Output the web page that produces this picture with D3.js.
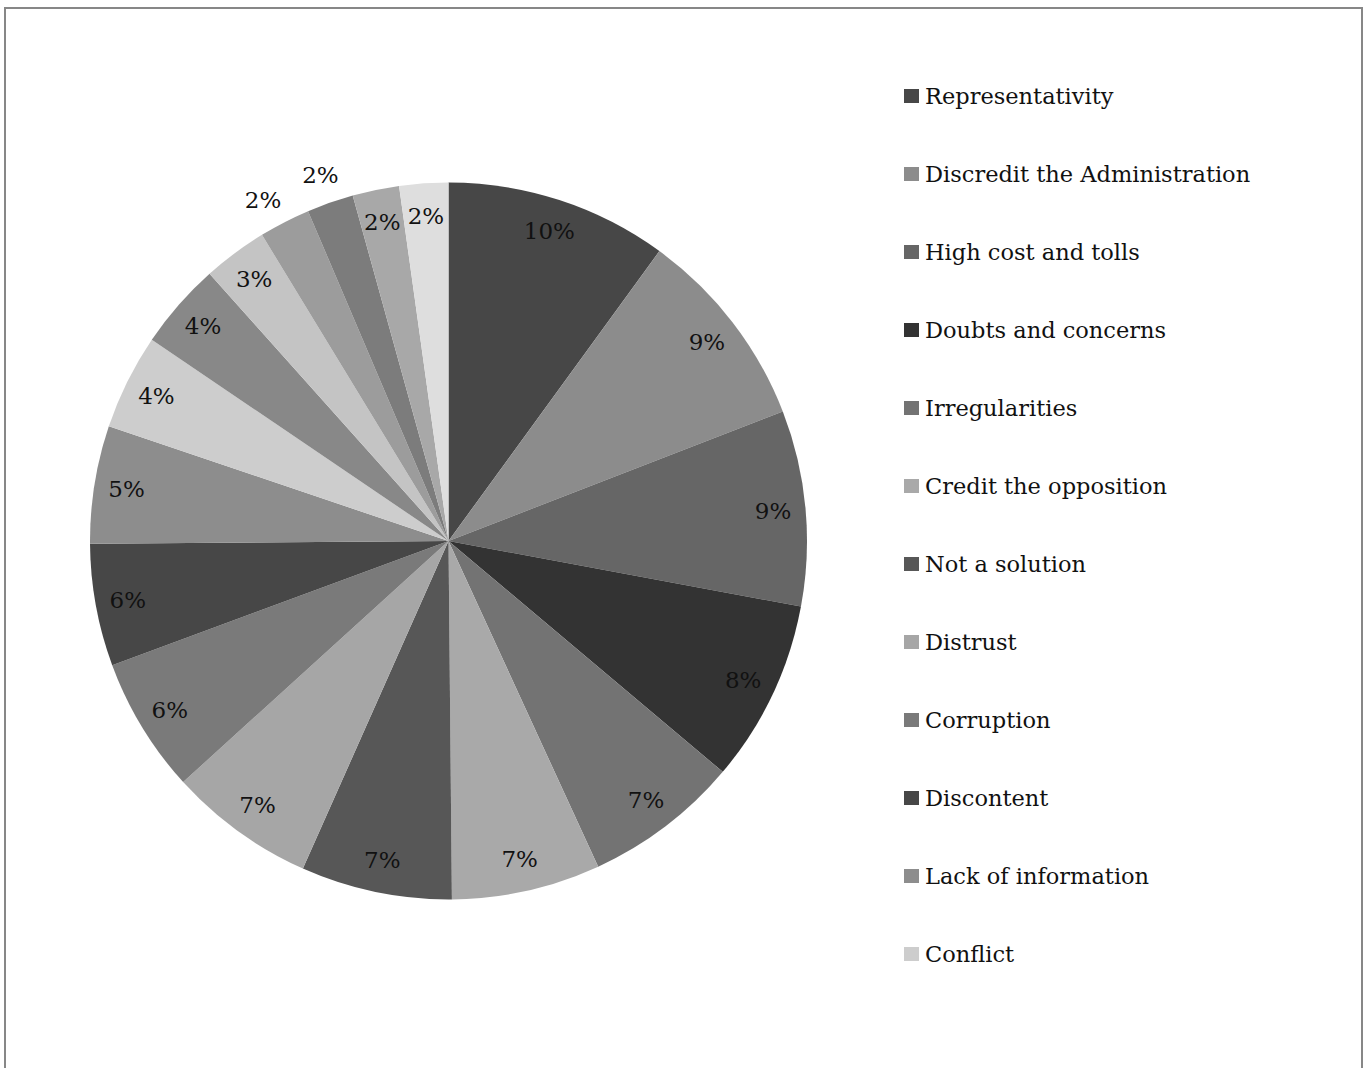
<!DOCTYPE html>
<html>
<head>
<meta charset="utf-8">
<script src="https://cdn.jsdelivr.net/npm/d3@7"></script>
<style>
  html, body { margin: 0; padding: 0; background: #fff; }
  svg { display: block; }
</style>
</head>
<body>
<svg id="chart" width="1364" height="1068"></svg>
<script>
// Legend categories (legend shows the first 12 entries)
const categories = [
  "Representativity",
  "Discredit the Administration",
  "High cost and tolls",
  "Doubts and concerns",
  "Irregularities",
  "Credit the opposition",
  "Not a solution",
  "Distrust",
  "Corruption",
  "Discontent",
  "Lack of information",
  "Conflict"
];
// Slice shares (percent), clockwise from 12 o'clock
const values = [10.0, 9.1, 8.8, 8.2, 7.0, 6.7, 6.8, 6.6, 6.1, 5.5, 5.3, 4.3, 3.9, 2.9, 2.3, 2.1, 2.1, 2.2];
// Slice fills
const colors = [
  "#474747", "#8c8c8c", "#666666", "#333333", "#737373", "#a9a9a9",
  "#575757", "#a6a6a6", "#7a7a7a", "#474747", "#8d8d8d", "#cdcdcd",
  "#888888", "#c4c4c4", "#9c9c9c", "#7c7c7c", "#a8a8a8", "#dedede"
];

const svg = d3.select("#chart");
const font = "'DejaVu Serif', 'Liberation Serif', serif";

// outer border
svg.append("rect")
  .attr("x", 5).attr("y", 8)
  .attr("width", 1357).attr("height", 1090)
  .attr("fill", "none")
  .attr("stroke", "#878787")
  .attr("stroke-width", 2);

const cx = 448.5, cy = 541, R = 358.5;
const g = svg.append("g").attr("transform", `translate(${cx},${cy})`);

const pie = d3.pie().sort(null).value(d => d);
const arcs = pie(values);
const arc = d3.arc().innerRadius(0).outerRadius(R);
const colorScale = d3.scaleOrdinal().domain(d3.range(values.length)).range(colors);

g.selectAll("path.slice")
  .data(arcs)
  .enter().append("path")
  .attr("class", "slice")
  .attr("d", arc)
  .attr("fill", (d, i) => colorScale(i));

// label placement: inside near the rim, thin crowded slices pushed outside
const inner = d3.arc().innerRadius(326).outerRadius(326);
const outer = d3.arc().innerRadius(388).outerRadius(388);
const outsideIdx = new Set([14, 15]);

g.selectAll("text.pct")
  .data(arcs)
  .enter().append("text")
  .attr("class", "pct")
  .attr("transform", (d, i) => {
    const p = (outsideIdx.has(i) ? outer : inner).centroid(d);
    return `translate(${p[0] + (i === 14 ? -8 : 0)},${p[1] + (i === 14 ? 4 : 0)})`;
  })
  .attr("text-anchor", "middle")
  .attr("dominant-baseline", "central")
  .attr("font-family", font)
  .attr("font-size", 23)
  .attr("fill", "#111")
  .text(d => Math.round(d.data) + "%");

// legend
const ly = d3.scalePoint().domain(categories).range([96, 954]);
const leg = svg.append("g");
const items = leg.selectAll("g.item")
  .data(categories)
  .enter().append("g")
  .attr("class", "item")
  .attr("transform", d => `translate(904,${ly(d)})`);
items.append("rect")
  .attr("x", 0).attr("y", -7)
  .attr("width", 15).attr("height", 14)
  .attr("fill", (d, i) => colorScale(i));
items.append("text")
  .attr("x", 21).attr("y", 0)
  .attr("dominant-baseline", "central")
  .attr("font-family", font)
  .attr("font-size", 22.5)
  .attr("fill", "#111")
  .text(d => d);
</script>
</body>
</html>
